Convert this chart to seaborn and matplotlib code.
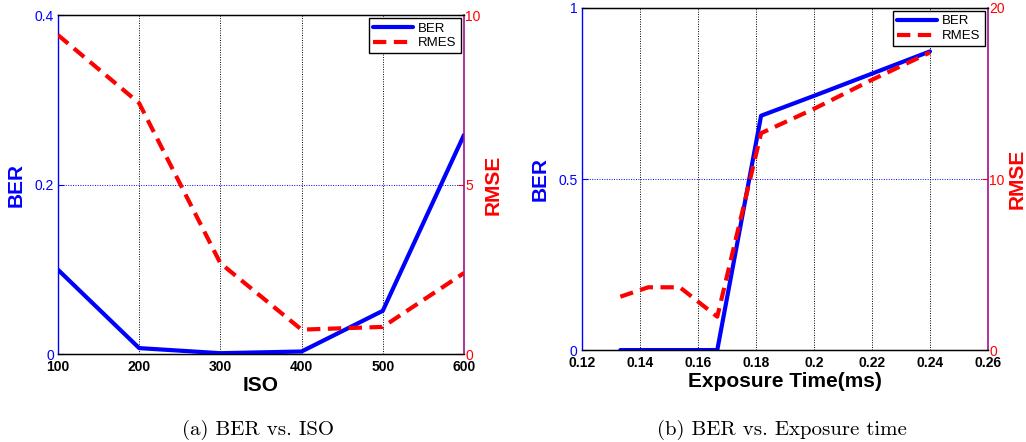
import matplotlib
matplotlib.use("Agg")
import matplotlib.pyplot as plt
import seaborn as sns
import pandas as pd

# ---------------- data ----------------
iso = [100, 200, 300, 400, 500, 600]
iso_ber = [0.0995, 0.007, 0.001, 0.003, 0.051, 0.2585]
iso_rmse = [9.41, 7.40, 2.68, 0.72, 0.80, 2.39]

exp_time = [0.1333, 0.1429, 0.1538, 0.1667, 0.1818, 0.2, 0.22, 0.24]
exp_ber = [0.0, 0.0, 0.0, 0.0, 0.685, 0.743, 0.808, 0.873]
exp_rmse = [3.12, 3.67, 3.67, 1.95, 12.68, 14.1, 15.8, 17.4]

iso_ticks = [100, 200, 300, 400, 500, 600]
iso_ber_ticks = [0, 0.2, 0.4]
iso_ber_labels = ["0", "0.2", "0.4"]
iso_rmse_ticks = [0, 5, 10]

exp_ticks = [0.12, 0.14, 0.16, 0.18, 0.2, 0.22, 0.24, 0.26]
exp_tick_labels = ["0.12", "0.14", "0.16", "0.18", "0.2", "0.22", "0.24", "0.26"]
exp_ber_ticks = [0, 0.5, 1]
exp_ber_labels = ["0", "0.5", "1"]
exp_rmse_ticks = [0, 10, 20]

captions = ["(a) BER vs. ISO", "(b) BER vs. Exposure time"]
xlabels = ["ISO", "Exposure Time(ms)"]

sns.set_style("white")
plt.rcParams['font.family'] = ['Liberation Sans', 'DejaVu Sans']
plt.rcParams['text.color'] = 'black'
plt.rcParams['axes.labelcolor'] = 'black'
plt.rcParams['xtick.color'] = 'black'
plt.rcParams['ytick.color'] = 'black'

BLUE = "#0000ff"
RED = "#ff0000"

fig = plt.figure(figsize=(10.26, 4.42), dpi=100)

axpos = [[0.0565, 0.199, 0.3957, 0.767], [0.567, 0.208, 0.396, 0.774]]

def panel(pos, x, ber, rmse, xlim, xticks, xticklabels, berlim, berticks, berlabels,
          rmselim, rmseticks, xlabel, caption, capx):
    ax = fig.add_axes(pos)
    ax2 = ax.twinx()
    df = pd.DataFrame({"x": x, "BER": ber, "RMSE": rmse})
    sns.lineplot(data=df, x="x", y="BER", ax=ax, color=BLUE, linewidth=3.0,
                 label="BER", legend=False, zorder=3)
    sns.lineplot(data=df, x="x", y="RMSE", ax=ax2, color=RED, linewidth=3.0,
                 label="RMES", legend=False, zorder=3)
    ax2.lines[0].set_dashes([3.2, 1.8])
    ax.set_xlim(*xlim)
    ax.set_ylim(*berlim)
    ax2.set_ylim(*rmselim)
    ax.set_xticks(xticks)
    ax.set_xticklabels(xticklabels, fontsize=10, fontweight="bold", color="black")
    ax.set_yticks(berticks)
    ax.set_yticklabels(berlabels, fontsize=10, color=BLUE)
    ax2.set_yticks(rmseticks)
    ax2.set_yticklabels([str(t) for t in rmseticks], fontsize=10, color=RED)
    ax.tick_params(axis="x", direction="in", length=4, pad=4, colors="black")
    ax.tick_params(axis="y", direction="in", length=4, pad=3, colors=BLUE)
    ax2.tick_params(axis="y", direction="in", length=4, pad=1, colors=RED)
    for t in ax.get_yticklabels():
        t.set_color(BLUE)
    for t in ax2.get_yticklabels():
        t.set_color(RED)
    # grid
    ax.grid(True, axis="x", color="black", linestyle=(0, (1, 1.5)), linewidth=0.7)
    ax.grid(True, axis="y", color=BLUE, linestyle=(0, (1, 1.5)), linewidth=0.7)
    ax.set_axisbelow(True)
    for sp in ["top", "bottom"]:
        ax.spines[sp].set_color("black")
        ax2.spines[sp].set_color("black")
        ax2.spines[sp].set_linewidth(1.0)
    ax.spines["left"].set_color(BLUE)
    ax.spines["left"].set_linewidth(1.0)
    ax2.spines["left"].set_visible(False)
    ax2.spines["right"].set_color("#a0108a")
    ax2.spines["right"].set_linewidth(1.2)
    ax.spines["right"].set_visible(False)
    ax.set_xlabel(xlabel, fontsize=15, fontweight="bold", color="black", labelpad=2)
    ax.set_ylabel("BER", fontsize=15, fontweight="bold", color=BLUE, labelpad=6)
    ax2.set_ylabel("RMSE", fontsize=15, fontweight="bold", color=RED, labelpad=2)
    h1 = ax.lines[0]
    h2 = ax2.lines[0]
    leg = ax2.legend([h1, h2], ["BER", "RMES"], loc="upper right", fontsize=9.5,
                     frameon=True, fancybox=False, edgecolor="black",
                     handlelength=3.0, handletextpad=0.4, borderpad=0.3,
                     labelspacing=0.2, borderaxespad=0.25, framealpha=1)
    leg.get_frame().set_linewidth(1.0)
    for t in leg.get_texts():
        t.set_color("black")
    fig.text(capx, 1 - 430 / 442, caption, fontsize=15, family="cmr10",
             ha="center", va="center", color="black")
    return ax, ax2

panel(axpos[0], iso, iso_ber, iso_rmse, (100, 600), iso_ticks,
      [str(t) for t in iso_ticks], (0, 0.4), iso_ber_ticks, iso_ber_labels,
      (0, 10), iso_rmse_ticks, xlabels[0], captions[0], 258 / 1026)
panel(axpos[1], exp_time, exp_ber, exp_rmse, (0.12, 0.26), exp_ticks,
      exp_tick_labels, (0, 1), exp_ber_ticks, exp_ber_labels,
      (0, 20), exp_rmse_ticks, xlabels[1], captions[1], 782 / 1026)

fig.savefig("out.png", dpi=100)
